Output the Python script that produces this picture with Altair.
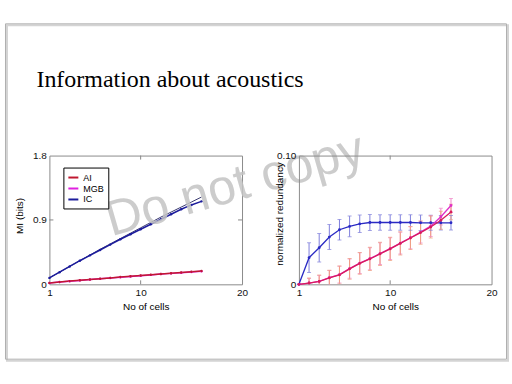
import altair as alt
import pandas as pd

# ---------------- data ----------------
cells = [1, 2, 3, 4, 5, 6, 7, 8, 9, 10, 11, 12, 13, 14, 15, 16]

# left panel: mutual information (bits)
mi_ai = [0.020, 0.033, 0.045, 0.057, 0.068, 0.079, 0.090, 0.101, 0.112, 0.123,
         0.134, 0.145, 0.156, 0.166, 0.176, 0.186]
mi_mgb = [0.018, 0.031, 0.043, 0.055, 0.066, 0.077, 0.088, 0.099, 0.110, 0.121,
          0.132, 0.143, 0.153, 0.163, 0.173, 0.183]
mi_ic = [0.090, 0.170, 0.250, 0.330, 0.405, 0.480, 0.555, 0.630, 0.700, 0.770,
         0.840, 0.910, 0.980, 1.050, 1.110, 1.160]
mi_ic_fit = [0.090, 0.170, 0.250, 0.330, 0.410, 0.490, 0.565, 0.640, 0.715, 0.790,
             0.865, 0.940, 1.010, 1.080, 1.150, 1.220]

# right panel: normalized redundancy
red_ai = [0.0, 0.0010, 0.0022, 0.0050, 0.0073, 0.0120, 0.0163, 0.0197, 0.0236, 0.0275,
          0.0318, 0.0360, 0.0402, 0.0445, 0.0498, 0.0562]
red_mgb = [0.0, 0.0010, 0.0023, 0.0052, 0.0075, 0.0122, 0.0165, 0.0199, 0.0238, 0.0277,
           0.0320, 0.0362, 0.0405, 0.0452, 0.0525, 0.0612]
red_ic = [0.0, 0.0207, 0.0284, 0.0367, 0.0424, 0.0450, 0.0470, 0.0480, 0.0480, 0.0480,
          0.0480, 0.0480, 0.0478, 0.0478, 0.0478, 0.0478]
err_ai = [0.0, 0.0040, 0.0050, 0.0060, 0.0070, 0.0080, 0.0085, 0.0090, 0.0090, 0.0090,
          0.0090, 0.0090, 0.0090, 0.0085, 0.0070, 0.0060]
err_mgb = [0.0, 0.0035, 0.0045, 0.0055, 0.0065, 0.0075, 0.0080, 0.0085, 0.0085, 0.0085,
           0.0085, 0.0085, 0.0085, 0.0080, 0.0065, 0.0055]
err_ic = [0.0, 0.0115, 0.0110, 0.0097, 0.0080, 0.0080, 0.0068, 0.0062, 0.0060, 0.0060,
          0.0060, 0.0060, 0.0060, 0.0058, 0.0056, 0.0056]

series_names = ["AI", "MGB", "IC"]
x_ticks = [1, 10, 20]
left_y_ticks = [0, 0.9, 1.8]
right_y_ticks = [0, 0.10]
inner_x_ticks = [10]
inner_y_ticks_left = [0.9]

title_text = "Information about acoustics"
watermark_text = "Do not copy"

# ---------------- tables (IC first so AI is drawn on top) ----------------
n = len(cells)
left_df = pd.DataFrame({
    "cells": cells * 3,
    "mi": mi_ic + mi_mgb + mi_ai,
    "series": ["IC"] * n + ["MGB"] * n + ["AI"] * n,
})
fit_df = pd.DataFrame({"cells": cells, "mi": mi_ic_fit})

vals = red_ic + red_mgb + red_ai
errs = err_ic + err_mgb + err_ai
right_df = pd.DataFrame({
    "cells": cells * 3,
    "val": vals,
    "lo": [v - e for v, e in zip(vals, errs)],
    "hi": [v + e for v, e in zip(vals, errs)],
    "series": ["IC"] * n + ["MGB"] * n + ["AI"] * n,
})
one = pd.DataFrame({"k": [0]})

W, H = 193, 129
FONT = "Liberation Sans"

common = dict(domain=False, ticks=False, grid=False, labelFont=FONT, labelFontSize=10,
              labelColor="#111", titleFont=FONT, titleFontSize=10, titleFontWeight="normal",
              titleColor="#000", labelPadding=3, zindex=1)

x_axis = alt.Axis(values=x_ticks, labelFlush=False, title="No of cells", titlePadding=4, **common)
yl_axis = alt.Axis(values=left_y_ticks, title="MI (bits)", titleX=-25, titleY=60,
                   labelExpr="datum.value == 0 ? '0' : format(datum.value, '.1f')", **common)
yr_axis = alt.Axis(values=right_y_ticks, title="normalized redundancy", titleX=-14, titleY=58,
                   labelExpr="datum.value == 0 ? '0' : format(datum.value, '.2f')", **common)

xs = alt.Scale(domain=[1, 20], nice=False)
yls = alt.Scale(domain=[0, 1.8], nice=False)
yrs = alt.Scale(domain=[0, 0.1], nice=False)


def X(f):
    return alt.X(f, type="quantitative", scale=xs, axis=x_axis)


def YL(f):
    return alt.Y(f, type="quantitative", scale=yls, axis=yl_axis)


def YR(f):
    return alt.Y(f, type="quantitative", scale=yrs, axis=yr_axis)


# ---------------- left panel ----------------
shadow = alt.Chart(one).mark_rect(fill="white", fillOpacity=0, stroke="#d4d4d4", strokeWidth=2).encode(
    x=alt.value(-42.5), x2=alt.value(459.5), y=alt.value(-130.5), y2=alt.value(205.5))
frame = alt.Chart(one).mark_rect(fill="white", fillOpacity=0, stroke="#b0b0b0", strokeWidth=1).encode(
    x=alt.value(-44), x2=alt.value(458), y=alt.value(-132), y2=alt.value(204))
title = alt.Chart(one).mark_text(text=title_text, align="left", baseline="alphabetic",
                                 font="Liberation Serif", fontSize=24, color="#000").encode(
    x=alt.value(-13), y=alt.value(-69))

left_colors = alt.Scale(domain=series_names, range=["#c01830", "#e020e0", "#1c1c9c"])
fit_line = alt.Chart(fit_df).mark_line(color="#3a3a70", strokeWidth=1).encode(
    x=X("cells"), y=YL("mi"))
left_lines = alt.Chart(left_df).mark_line(
    strokeWidth=1.5, point=alt.OverlayMarkDef(filled=True, size=6)).encode(
    x=X("cells"), y=YL("mi"),
    color=alt.Color("series:N", scale=left_colors,
                    legend=alt.Legend(orient="none", legendX=14, legendY=12, title=None,
                                      symbolType="stroke", symbolStrokeWidth=2, symbolSize=100,
                                      labelFont=FONT, labelFontSize=9, labelColor="#000",
                                      rowPadding=0, padding=4, strokeColor="#000",
                                      fillColor="white", labelOffset=4)))

tick_x_df = pd.DataFrame({"v": inner_x_ticks})
tick_yl_df = pd.DataFrame({"v": inner_y_ticks_left})
lt_bottom = alt.Chart(tick_x_df).mark_rule(color="#888").encode(
    x=X("v"), y=alt.value(H), y2=alt.value(H - 4))
lt_top = alt.Chart(tick_x_df).mark_rule(color="#888").encode(
    x=X("v"), y=alt.value(0), y2=alt.value(4))
lt_left = alt.Chart(tick_yl_df).mark_rule(color="#888").encode(
    y=YL("v"), x=alt.value(0), x2=alt.value(4))
lt_right = alt.Chart(tick_yl_df).mark_rule(color="#888").encode(
    y=YL("v"), x=alt.value(W), x2=alt.value(W - 4))

watermark = alt.Chart(one).mark_text(text=watermark_text, align="center", baseline="middle",
                                     font=FONT, fontSize=50, angle=344, color="#c4c4c4",
                                     opacity=0.85).encode(
    x=alt.value(186), y=alt.value(30))

left = alt.layer(shadow, frame, title, fit_line, left_lines, lt_bottom, lt_top, lt_left,
                 lt_right, watermark).properties(width=W, height=H)

# ---------------- right panel ----------------
right_colors = alt.Scale(domain=series_names, range=["#d81c5c", "#e030c8", "#2a2ac4"])
bar_colors = alt.Scale(domain=series_names, range=["#f0a080", "#f088c8", "#8080dc"])

bars = alt.Chart(right_df).mark_rule(strokeWidth=1, clip=True).encode(
    x=X("cells"), y=YR("lo"), y2="hi",
    color=alt.Color("series:N", scale=bar_colors, legend=None))
cap_lo = alt.Chart(right_df).mark_tick(orient="horizontal", size=4, thickness=1, clip=True).encode(
    x=X("cells"), y=YR("lo"),
    color=alt.Color("series:N", scale=bar_colors, legend=None))
cap_hi = alt.Chart(right_df).mark_tick(orient="horizontal", size=4, thickness=1, clip=True).encode(
    x=X("cells"), y=YR("hi"),
    color=alt.Color("series:N", scale=bar_colors, legend=None))
right_lines = alt.Chart(right_df).mark_line(
    strokeWidth=1.3, point=alt.OverlayMarkDef(filled=True, size=8)).encode(
    x=X("cells"), y=YR("val"),
    color=alt.Color("series:N", scale=right_colors, legend=None))
rt_bottom = alt.Chart(tick_x_df).mark_rule(color="#888").encode(
    x=X("v"), y=alt.value(H), y2=alt.value(H - 4))
rt_top = alt.Chart(tick_x_df).mark_rule(color="#888").encode(
    x=X("v"), y=alt.value(0), y2=alt.value(4))

right = alt.layer(bars, cap_lo, cap_hi, right_lines, rt_bottom, rt_top).resolve_scale(
    color="independent").properties(width=W, height=H)

chart = alt.hconcat(left, right, spacing=57, bounds="flush").resolve_scale(
    color="independent").properties(
    padding={"left": 4.5, "top": 22.5, "right": 2.5, "bottom": 22.5},
    background="white",
).configure_view(stroke="#8c8c8c", strokeWidth=1)

chart.save("out.html", embed_options={"renderer": "svg", "actions": False})
